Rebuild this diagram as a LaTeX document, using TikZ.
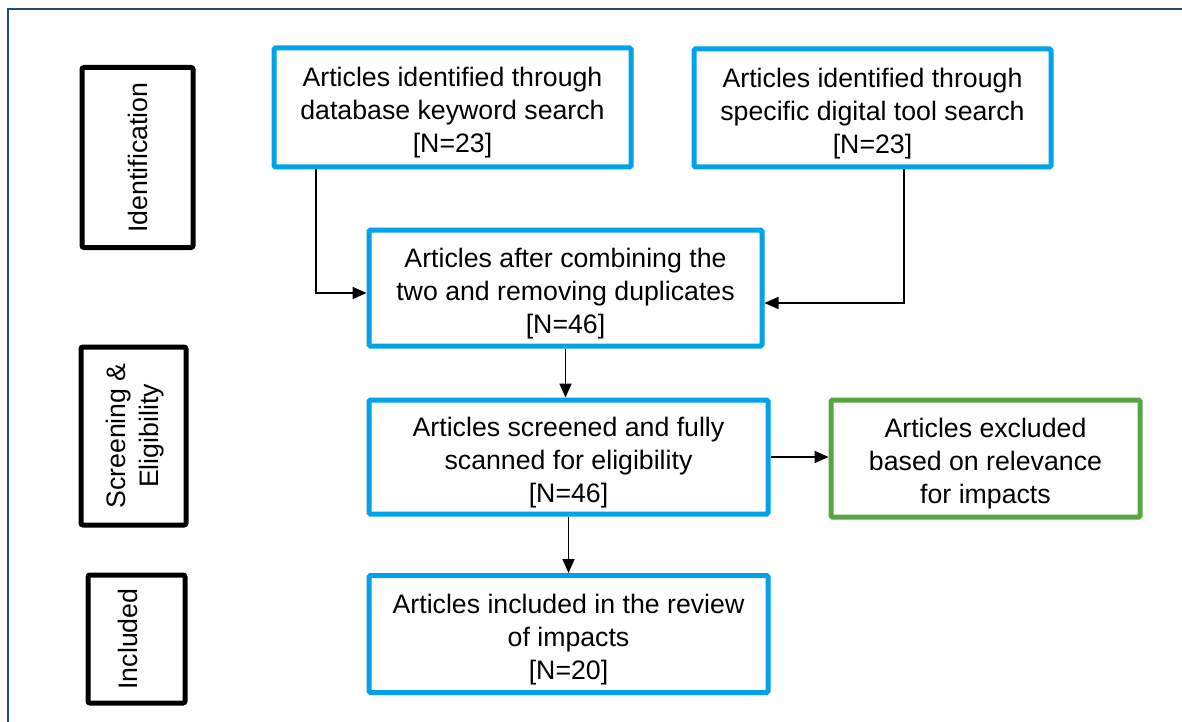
\documentclass[tikz,border=0pt]{standalone}
\usepackage{fontspec}
\setmainfont{Liberation Sans}
\usetikzlibrary{arrows.meta}
\definecolor{cblue}{RGB}{0,162,232}
\definecolor{cgreen}{RGB}{88,165,70}
\definecolor{cframe}{RGB}{31,78,121}
\newcommand\topgap{\rule{0pt}{30pt}}
\tikzset{
  txt/.style={font=\fontsize{26.7pt}{33pt}\selectfont, align=center},
  bluebox/.style={txt, draw=cblue, line width=5pt, rounded corners=1.5pt, inner sep=0pt},
  greenbox/.style={txt, draw=cgreen, line width=5pt, rounded corners=1.5pt, inner sep=0pt},
  stagebox/.style={draw=black, line width=5pt, rounded corners=2pt, inner sep=0pt},
  stagetext/.style={txt, rotate=90, inner sep=0pt},
  arr/.style={line width=1.7pt, -{Triangle[length=14pt,width=12pt]}},
  frameline/.style={draw=cframe, line width=2pt}
}
\begin{document}
\begin{tikzpicture}[x=1pt,y=-1pt]
\useasboundingbox (0,0) rectangle (1182,722);
\fill[white] (0,0) rectangle (1182,722);
\draw[frameline] (1182,9) -- (8,9) -- (8,722);

% stage boxes
\node[stagebox, minimum width=111pt, minimum height=180pt] (idbox) at (137.5,157.5) {};
\node[stagetext] (idtext) at (138,157.5) {Identification};
\node[stagebox, minimum width=105pt, minimum height=178pt] (scbox) at (133.5,436) {};
\node[stagetext] (sctext) at (135,436) {Screening \&\\Eligibility};
\node[stagebox, minimum width=97pt, minimum height=128pt] (inbox) at (136.5,639) {};
\node[stagetext] (intext) at (128,639) {Included};

% flow boxes
\node[bluebox, minimum width=357pt, minimum height=119pt] (A) at (452.5,107.5)
  {\topgap Articles identified through\\database keyword search\\{[N=23]}};
\node[bluebox, minimum width=357pt, minimum height=118pt] (B) at (872.5,108)
  {\topgap Articles identified through\\specific digital tool search\\{[N=23]}};
\node[bluebox, minimum width=393pt, minimum height=116pt] (C) at (565.5,288)
  {\topgap Articles after combining the\\two and removing duplicates\\{[N=46]}};
\node[bluebox, minimum width=399pt, minimum height=114pt] (D) at (568.5,457)
  {\topgap Articles screened and fully\\scanned for eligibility\\{[N=46]}};
\node[greenbox, minimum width=309pt, minimum height=117pt] (G) at (985.5,458.5)
  {\topgap Articles excluded\\based on relevance\\for impacts};
\node[bluebox, minimum width=399pt, minimum height=117pt] (E) at (568.5,634)
  {\topgap Articles included in the review\\of impacts\\{[N=20]}};

% connectors
\draw[arr] ([xshift=-136.5pt]A.south) |- ([yshift=-5pt]C.west);
\draw[arr] ([xshift=31.5pt]B.south) |- ([yshift=-15pt]C.east);
\draw[arr] (C.south) -- (C.south |- D.north);
\draw[arr] (D.south) -- (E.north);
\draw[arr] (D.east) -- (D.east -| G.west);
\end{tikzpicture}
\end{document}
